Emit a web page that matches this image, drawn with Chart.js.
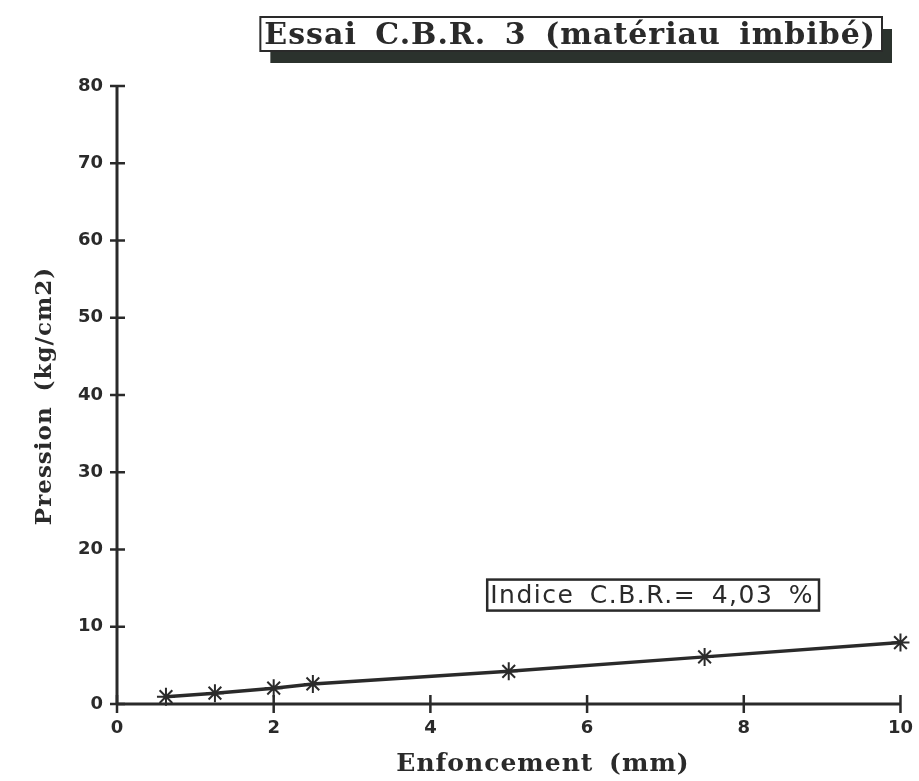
<!DOCTYPE html>
<html>
<head>
<meta charset="utf-8">
<script src="https://cdn.jsdelivr.net/npm/chart.js@4/dist/chart.umd.min.js"></script>
<style>
html,body{margin:0;padding:0;background:#fff;}
#wrap{width:919px;height:781px;position:relative;}
</style>
</head>
<body>
<div id="wrap"><canvas id="c" width="919" height="781"></canvas></div>
<script>
const enfoncement = [0.625, 1.25, 2, 2.5, 5, 7.5, 10];
const pression = [0.95, 1.4, 2.05, 2.6, 4.23, 6.1, 7.95];
const xTicks = [0, 2, 4, 6, 8, 10];
const yTicks = [0, 10, 20, 30, 40, 50, 60, 70, 80];
const titleText = 'Essai C.B.R. 3 (matériau imbibé)';
const noteText = 'Indice C.B.R.= 4,03 %';
const xLabel = 'Enfoncement (mm)';
const yLabel = 'Pression (kg/cm2)';

const ink = '#2a2a2a';

const axesPlugin = {
  id: 'axesPlugin',
  beforeDatasetsDraw(chart) {
    const ctx = chart.ctx;
    const xs = chart.scales.x, ys = chart.scales.y;
    const x0 = xs.getPixelForValue(0), x1 = xs.getPixelForValue(10);
    const y0 = ys.getPixelForValue(0), y1 = ys.getPixelForValue(80);
    ctx.save();
    ctx.strokeStyle = ink;
    ctx.lineWidth = 3;
    ctx.lineCap = 'butt';
    ctx.beginPath();
    ctx.moveTo(x0, y1); ctx.lineTo(x0, y0);
    ctx.moveTo(x0, y0); ctx.lineTo(x1, y0);
    ctx.stroke();
    ctx.lineWidth = 2.5;
    ctx.beginPath();
    yTicks.forEach(v => {
      const p = ys.getPixelForValue(v);
      ctx.moveTo(x0 - 7, p); ctx.lineTo(x0 + 8, p);
    });
    xTicks.forEach(v => {
      const p = xs.getPixelForValue(v);
      ctx.moveTo(p, y0 - 9); ctx.lineTo(p, y0 + 9);
    });
    ctx.stroke();
    ctx.restore();
  },
  afterDraw(chart) {
    const ctx = chart.ctx;
    const xs = chart.scales.x, ys = chart.scales.y;
    ctx.save();
    // Title box with shadow
    ctx.font = 'bold 30px "DejaVu Serif"';
    ctx.letterSpacing = '1px';
    ctx.wordSpacing = '7px';
    ctx.textBaseline = 'middle';
    const tw = ctx.measureText(titleText).width;
    const right = 882, top = 17, h = 34;
    const left = right - tw - 10;
    ctx.fillStyle = '#2b322d';
    ctx.fillRect(left + 10, top + 12, right - left, h);
    ctx.fillStyle = '#fff';
    ctx.fillRect(left, top, right - left, h);
    ctx.strokeStyle = ink;
    ctx.lineWidth = 2;
    ctx.strokeRect(left, top, right - left, h);
    ctx.fillStyle = ink;
    ctx.textAlign = 'left';
    ctx.fillText(titleText, left + 4, top + h / 2 + 2);

    // Axis titles
    ctx.letterSpacing = '1px';
    ctx.wordSpacing = '6px';
    ctx.textAlign = 'center';
    ctx.font = 'bold 25px "DejaVu Serif"';
    ctx.fillText(xLabel, 543, 764);
    ctx.save();
    ctx.translate(45, 396);
    ctx.rotate(-Math.PI / 2);
    ctx.font = 'bold 23px "DejaVu Serif"';
    ctx.fillText(yLabel, 0, 0);
    ctx.restore();

    // Annotation box
    ctx.letterSpacing = '1.5px';
    ctx.wordSpacing = '6px';
    ctx.textAlign = 'left';
    ctx.font = '25px "DejaVu Sans"';
    const nw = ctx.measureText(noteText).width;
    const bx2 = xs.getPixelForValue(8.96);
    const bcy = ys.getPixelForValue(14.1);
    const bh = 31;
    const bx1 = bx2 - nw - 8;
    ctx.fillStyle = '#fff';
    ctx.fillRect(bx1, bcy - bh / 2, bx2 - bx1, bh);
    ctx.lineWidth = 2.5;
    ctx.strokeRect(bx1, bcy - bh / 2, bx2 - bx1, bh);
    ctx.fillStyle = ink;
    ctx.fillText(noteText, bx1 + 3, bcy + 1);
    ctx.restore();
  }
};

new Chart(document.getElementById('c'), {
  type: 'scatter',
  data: {
    datasets: [{
      data: enfoncement.map((x, i) => ({x: x, y: pression[i]})),
      showLine: true,
      clip: false,
      borderColor: ink,
      borderWidth: 3.5,
      pointStyle: 'star',
      pointRadius: 9,
      pointBorderWidth: 2,
      pointBorderColor: ink,
      pointBackgroundColor: ink,
      tension: 0
    }]
  },
  plugins: [axesPlugin],
  options: {
    responsive: false,
    animation: false,
    events: [],
    layout: { padding: { top: 86, right: 12, left: 0, bottom: 0 } },
    plugins: { legend: { display: false }, tooltip: { enabled: false }, title: { display: false } },
    scales: {
      x: {
        type: 'linear', min: 0, max: 10,
        afterFit(s) { s.height = 77; },
        afterBuildTicks(s) { s.ticks = xTicks.map(v => ({value: v})); },
        grid: { display: false }, border: { display: false },
        ticks: { color: ink, padding: 6, font: { family: 'DejaVu Sans', weight: 'bold', size: 18 } },
        title: { display: false }
      },
      y: {
        type: 'linear', min: 0, max: 80,
        afterFit(s) { s.width = 117; },
        afterBuildTicks(s) { s.ticks = yTicks.map(v => ({value: v})); },
        grid: { display: false }, border: { display: false },
        ticks: { color: ink, padding: 6, font: { family: 'DejaVu Sans', weight: 'bold', size: 18 } },
        title: { display: false }
      }
    }
  }
});
</script>
</body>
</html>
